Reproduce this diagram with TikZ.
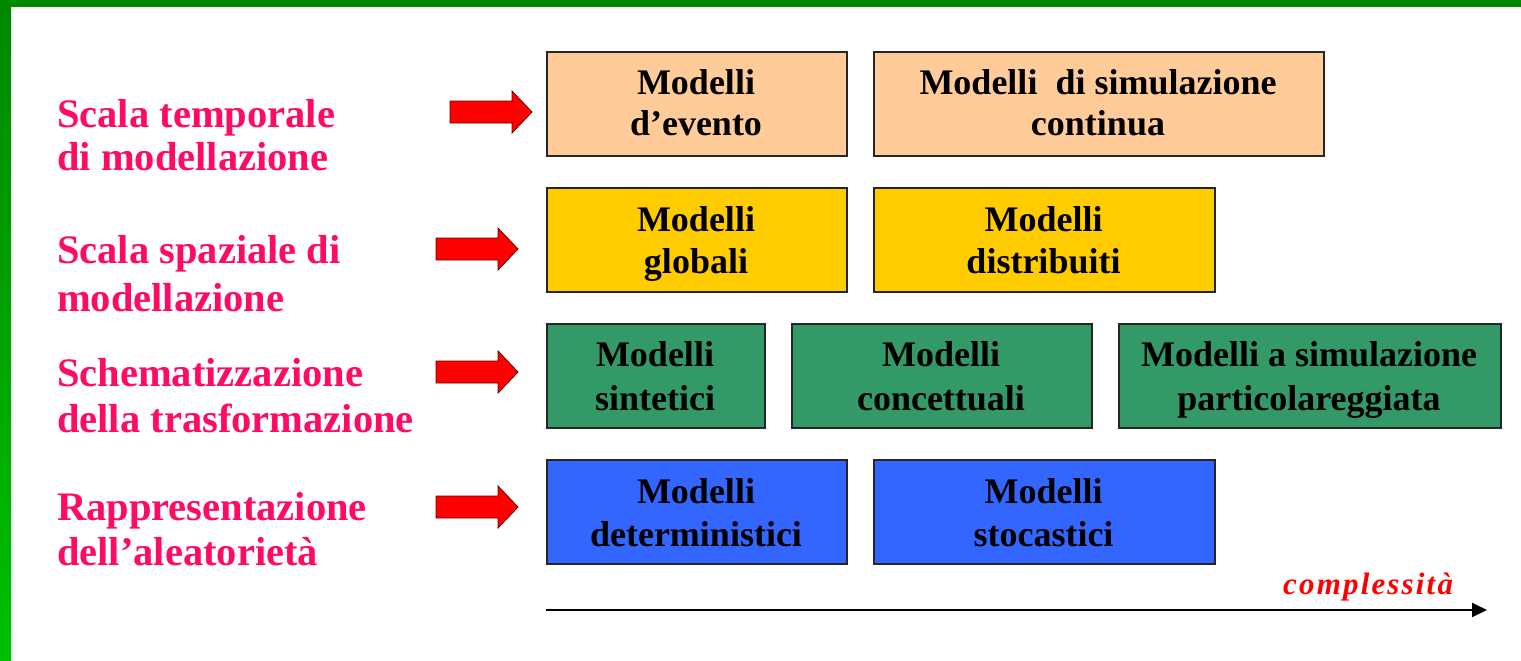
\documentclass[tikz,border=0pt]{standalone}
\usepackage{fontspec}
\setmainfont{Liberation Serif}
\usetikzlibrary{arrows.meta}
\definecolor{pinktxt}{RGB}{255,10,100}
\definecolor{greenA}{RGB}{0,136,0}
\definecolor{greenB}{RGB}{0,192,0}
\definecolor{peach}{RGB}{255,204,153}
\definecolor{gold}{RGB}{255,204,0}
\definecolor{sea}{RGB}{51,153,102}
\definecolor{royal}{RGB}{51,102,255}
\definecolor{arrred}{RGB}{255,0,0}
\newcommand\myredarrow[4]{%
  \draw[redarr] (#1,#2-11) -- (#3,#2-11) -- (#3,#2-21) -- (#4,#2) -- (#3,#2+21) -- (#3,#2+11) -- (#1,#2+11) -- cycle;}
\begin{document}
\begin{tikzpicture}[x=1pt,y=-1pt,
  box/.style={draw=black!85, line width=2pt, minimum width=#1, minimum height=104pt, inner sep=0pt, anchor=north west},
  txt/.style={inner sep=0pt, anchor=base, font=\fontsize{36}{40}\selectfont\bfseries, text=black},
  lab/.style={inner sep=0pt, anchor=base west, font=\fontsize{40.5}{43}\selectfont\bfseries, text=pinktxt},
  redarr/.style={fill=arrred, draw=black!60!red, line width=0.8pt, line join=miter}]
\useasboundingbox (0,0) rectangle (1521,661);
\fill[white] (0,0) rectangle (1521,661);
\shade[top color=greenA, bottom color=greenB] (0,0) rectangle (11,661);
\fill[greenA] (0,0) rectangle (1521,7);

% left labels
\node[lab] (l1a) at (57,127) {Scala temporale};
\node[lab] (l1b) at (57,170) {di modellazione};
\node[lab] (l2a) at (57,263) {Scala spaziale di};
\node[lab] (l2b) at (57,311) {modellazione};
\node[lab] (l3a) at (57,386) {Schematizzazione};
\node[lab] (l3b) at (57,432) {della trasformazione};
\node[lab] (l4a) at (57,520) {Rappresentazione};
\node[lab] (l4b) at (57,565) {dell’aleatorietà};

% red block arrows
\myredarrow{450}{112}{512}{532}
\myredarrow{436}{249}{498}{518}
\myredarrow{436}{372}{498}{518}
\myredarrow{436}{507}{498}{518}

% row 1
\node[box=300pt, fill=peach] (a1) at (546,51) {};
\node[box=450pt, fill=peach] (b1) at (873,51) {};
\node[txt] (a1t1) at (696,95) {Modelli};
\node[txt] (a1t2) at (696,135) {d’evento};
\node[txt] (b1t1) at (1098,95) {Modelli\ \ di simulazione};
\node[txt] (b1t2) at (1098,135) {continua};

% row 2
\node[box=300pt, fill=gold] (a2) at (546,187) {};
\node[box=341pt, fill=gold] (b2) at (873,187) {};
\node[txt] (a2t1) at (696,231) {Modelli};
\node[txt] (a2t2) at (696,273) {globali};
\node[txt] (b2t1) at (1043.5,231) {Modelli};
\node[txt] (b2t2) at (1043.5,273) {distribuiti};

% row 3
\node[box=218pt, fill=sea] (a3) at (546,323) {};
\node[box=300pt, fill=sea] (b3) at (791,323) {};
\node[box=382pt, fill=sea] (c3) at (1118,323) {};
\node[txt] (a3t1) at (655,366) {Modelli};
\node[txt] (a3t2) at (655,410) {sintetici};
\node[txt] (b3t1) at (941,366) {Modelli};
\node[txt] (b3t2) at (941,410) {concettuali};
\node[txt] (c3t1) at (1309,366) {Modelli a simulazione};
\node[txt] (c3t2) at (1309,410) {particolareggiata};

% row 4
\node[box=300pt, fill=royal] (a4) at (546,459) {};
\node[box=341pt, fill=royal] (b4) at (873,459) {};
\node[txt] (a4t1) at (696,503) {Modelli};
\node[txt] (a4t2) at (696,546) {deterministici};
\node[txt] (b4t1) at (1043.5,503) {Modelli};
\node[txt] (b4t2) at (1043.5,546) {stocastici};

% complexity axis
\coordinate (cx0) at (546,610);
\coordinate (cx1) at (1487,610);
\draw[line width=2pt, -{Triangle[length=15pt,width=14pt]}] (cx0) -- (cx1);
\node[inner sep=0pt, anchor=base west, text=arrred,
  font=\fontsize{31}{34}\selectfont\bfseries\itshape\addfontfeature{LetterSpace=7}] (cplx) at (1283,594) {complessità};
\end{tikzpicture}
\end{document}
